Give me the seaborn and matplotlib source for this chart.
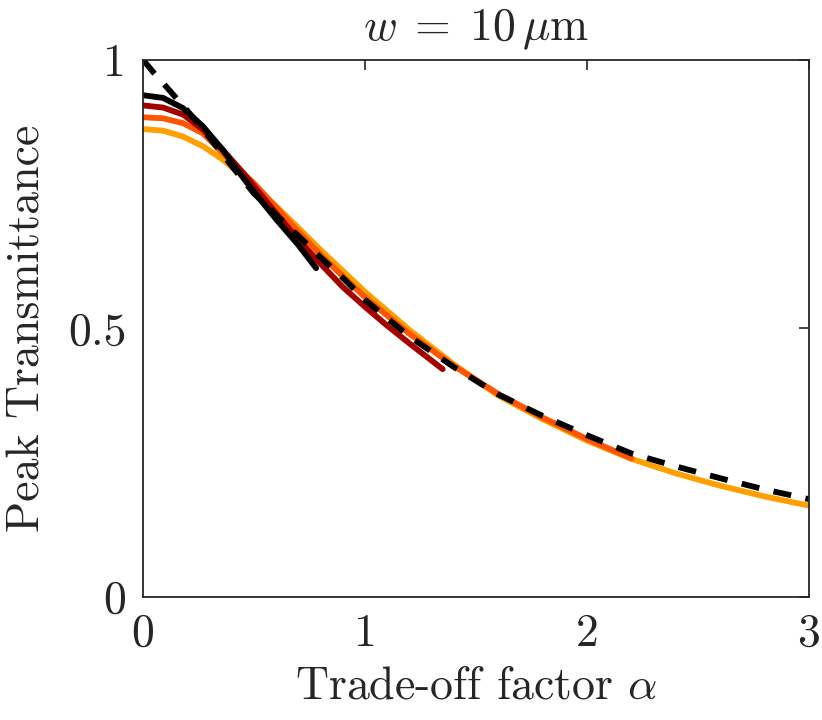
import numpy as np
import pandas as pd
import matplotlib
matplotlib.use('Agg')
import matplotlib.pyplot as plt
import seaborn as sns

# peak transmittance vs trade-off factor
alpha_dash = [0.0, 0.05, 0.1, 0.2, 0.3, 0.4, 0.5, 0.6, 0.7, 0.8, 0.9, 1.0, 1.2, 1.4,
              1.6, 1.8, 2.0, 2.2, 2.4, 2.6, 2.8, 3.0]
T_dash = [1.0, 0.975, 0.952, 0.905, 0.855, 0.802, 0.751, 0.711, 0.672, 0.632, 0.594, 0.553,
          0.485, 0.428, 0.377, 0.337, 0.301, 0.267, 0.243, 0.221, 0.200, 0.182]

alpha_0 = [0.0, 0.09, 0.18, 0.27, 0.36, 0.45, 0.5, 0.6, 0.7, 0.78]
T_0 = [0.934, 0.929, 0.910, 0.876, 0.832, 0.781, 0.754, 0.703, 0.655, 0.612]

alpha_1 = [0.0, 0.09, 0.18, 0.27, 0.36, 0.45, 0.5, 0.6, 0.7, 0.8, 0.9, 1.0, 1.1, 1.2, 1.35]
T_1 = [0.915, 0.911, 0.898, 0.870, 0.832, 0.790, 0.765, 0.714, 0.665, 0.620, 0.577, 0.540,
       0.505, 0.472, 0.424]

alpha_2 = [0.0, 0.09, 0.18, 0.27, 0.36, 0.45, 0.5, 0.6, 0.7, 0.8, 0.9, 1.0, 1.2, 1.4,
           1.6, 1.8, 2.0, 2.2]
T_2 = [0.893, 0.891, 0.882, 0.863, 0.826, 0.789, 0.770, 0.725, 0.680, 0.637, 0.597, 0.558,
       0.490, 0.430, 0.378, 0.334, 0.294, 0.258]

alpha_3 = [0.0, 0.09, 0.18, 0.27, 0.36, 0.45, 0.5, 0.6, 0.7, 0.8, 0.9, 1.0, 1.2, 1.4,
           1.6, 1.8, 2.0, 2.2, 2.4, 2.6, 2.8, 3.0]
T_3 = [0.871, 0.868, 0.857, 0.839, 0.814, 0.783, 0.766, 0.727, 0.687, 0.646, 0.607, 0.568,
       0.497, 0.433, 0.375, 0.331, 0.291, 0.257, 0.230, 0.207, 0.187, 0.170]

xticks = [0, 1, 2, 3]
xtick_labels = ['0', '1', '2', '3']
yticks = [0, 0.5, 1]
ytick_labels = ['0', '0.5', '1']

sns.set_theme(style='white')
plt.rcParams['font.family'] = ['cmr10', 'DejaVu Serif']
plt.rcParams['mathtext.fontset'] = 'cm'
plt.rcParams['axes.unicode_minus'] = False
plt.rcParams['xtick.direction'] = 'in'
plt.rcParams['ytick.direction'] = 'in'

fs = 33
f = plt.figure(figsize=(8.22, 7.2), dpi=100)
ax = f.add_axes([0.174, 0.171, 0.81, 0.746])

lw = 4.2
sns.lineplot(x=alpha_3, y=T_3, color='#FFA000', linewidth=lw, ax=ax, sort=False)
sns.lineplot(x=alpha_2, y=T_2, color='#FF5500', linewidth=lw, ax=ax, sort=False)
sns.lineplot(x=alpha_1, y=T_1, color='#A50000', linewidth=lw, ax=ax, sort=False)
sns.lineplot(x=alpha_0, y=T_0, color='black', linewidth=lw, ax=ax, sort=False)
sns.lineplot(x=alpha_dash, y=T_dash, color='black', linewidth=lw, ax=ax, sort=False,
             linestyle=(0, (3.1, 2.5)))

ax.set_xlim(0, 3)
ax.set_ylim(0, 1)
ax.set_xticks(xticks)
ax.set_xticklabels(xtick_labels)
ax.set_yticks(yticks)
ax.set_yticklabels(ytick_labels)
ax.tick_params(axis='both', which='both', direction='in', top=True, right=True,
               length=7, width=1.2, color='#262626', labelsize=fs, pad=12)
for s in ax.spines.values():
    s.set_color('#262626')
    s.set_linewidth(1.3)

ax.set_xlabel(r'Trade-off factor $\alpha$', fontsize=fs, labelpad=8)
ax.set_ylabel('Peak Transmittance', fontsize=fs, labelpad=14)
ax.set_title(r'$w\;=\;10\,\mu$m', fontsize=fs, pad=14)

plt.savefig('out.png', dpi=100)
